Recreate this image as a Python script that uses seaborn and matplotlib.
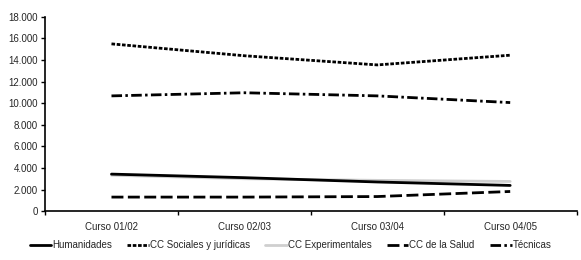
import matplotlib
matplotlib.use("Agg")
import matplotlib.pyplot as plt
import seaborn as sns
import pandas as pd
from matplotlib.ticker import FuncFormatter, FixedLocator
from matplotlib.lines import Line2D

cursos = ["Curso 01/02", "Curso 02/03", "Curso 03/04", "Curso 04/05"]
humanidades = [3430, 3100, 2700, 2380]
sociales = [15500, 14400, 13550, 14450]
experimentales = [3330, 3000, 2850, 2750]
salud = [1300, 1300, 1350, 1820]
tecnicas = [10680, 10970, 10680, 10060]
series_names = ["Humanidades", "CC Sociales y jurídicas", "CC Experimentales", "CC de la Salud", "Técnicas"]
y_ticks = [0, 2000, 4000, 6000, 8000, 10000, 12000, 14000, 16000, 18000]

sns.set_style("white")
plt.rcParams['font.family'] = ['Liberation Sans', 'DejaVu Sans']

rows = []
for name, vals in zip(series_names, [humanidades, sociales, experimentales, salud, tecnicas]):
    for i, (c, v) in enumerate(zip(cursos, vals)):
        rows.append({"serie": name, "x": i, "valor": v})
df = pd.DataFrame(rows)

palette = {"Humanidades": "black", "CC Sociales y jurídicas": "black",
           "CC Experimentales": "#cfcfcf", "CC de la Salud": "black", "Técnicas": "black"}
dashes = {"Humanidades": "", "CC Sociales y jurídicas": (1.3, 0.6),
          "CC Experimentales": "", "CC de la Salud": (4.3, 1.6), "Técnicas": (3.8, 1.2, 0.9, 1.2)}

fig = plt.figure(figsize=(5.81, 2.6), dpi=100)
ax = fig.add_axes([0.0775, 0.188, 0.915, 0.747])

order = ["CC Experimentales", "Humanidades", "CC Sociales y jurídicas", "CC de la Salud", "Técnicas"]
sns.lineplot(data=df, x="x", y="valor", hue="serie", style="serie", palette=palette,
             dashes=dashes, hue_order=order, style_order=order, linewidth=2.0, ax=ax, legend=False)

ax.set_xlim(-0.5, 3.5)
ax.set_ylim(0, 18000)
ax.set_yticks(y_ticks)
ax.yaxis.set_major_formatter(FuncFormatter(lambda v, p: f"{int(v):,}".replace(",", ".")))
ax.xaxis.set_major_locator(FixedLocator([-0.5, 0.5, 1.5, 2.5, 3.5]))
ax.xaxis.set_major_formatter(FuncFormatter(lambda v, p: ""))
ax.xaxis.set_minor_locator(FixedLocator([0, 1, 2, 3]))
ax.set_xticklabels(cursos, minor=True)
ax.tick_params(axis="x", which="minor", length=0, pad=8, labelsize=7)
ax.tick_params(axis="x", which="major", length=3, width=1, direction="out", color="black")
ax.tick_params(axis="y", length=3, width=1, direction="out", color="black", labelsize=7, pad=2)
ax.tick_params(axis="both", bottom=True, left=True)
ax.set_xlabel("")
ax.set_ylabel("")
for s in ["top", "right"]:
    ax.spines[s].set_visible(False)
for s in ["left", "bottom"]:
    ax.spines[s].set_color("black")
    ax.spines[s].set_linewidth(1.2)

handles = []
for name in series_names:
    d = dashes[name]
    ls = (0, d) if d else "-"
    handles.append(Line2D([], [], color=palette[name], lw=2.0, linestyle=ls))
fig.legend(handles, series_names, loc="center", bbox_to_anchor=(0.5, 0.057), ncol=5,
           frameon=False, fontsize=7, handlelength=2.2, handletextpad=0.1, columnspacing=1.6)

fig.savefig("out.png", dpi=100)
